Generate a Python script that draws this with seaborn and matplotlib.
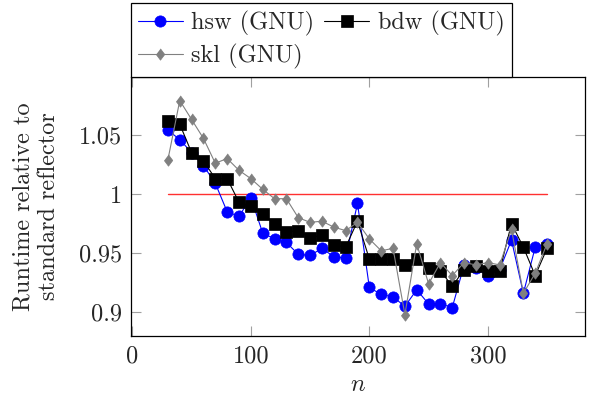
import matplotlib
matplotlib.use("Agg")
import matplotlib.pyplot as plt
import seaborn as sns
import pandas as pd

# --- data ---
n_values = [30, 40, 50, 60, 70, 80, 90, 100, 110, 120, 130, 140, 150, 160, 170,
            180, 190, 200, 210, 220, 230, 240, 250, 260, 270, 280, 290, 300,
            310, 320, 330, 340, 350]
hsw = [1.054, 1.046, 1.035, 1.024, 1.009, 0.985, 0.981, 0.997, 0.967, 0.962,
       0.959, 0.949, 0.948, 0.954, 0.947, 0.946, 0.992, 0.921, 0.915, 0.913,
       0.905, 0.919, 0.907, 0.907, 0.904, 0.940, 0.937, 0.931, 0.936, 0.961,
       0.916, 0.955, 0.958]
bdw = [1.062, 1.059, 1.035, 1.028, 1.013, 1.013, 0.993, 0.990, 0.983, 0.975,
       0.968, 0.969, 0.963, 0.965, 0.957, 0.955, 0.977, 0.945, 0.945, 0.945,
       0.940, 0.945, 0.937, 0.935, 0.922, 0.936, 0.939, 0.935, 0.935, 0.975,
       0.955, 0.931, 0.954]
skl = [1.029, 1.079, 1.063, 1.047, 1.026, 1.030, 1.020, 1.013, 1.004, 0.996,
       0.996, 0.980, 0.976, 0.977, 0.972, 0.969, 0.976, 0.962, 0.952, 0.954,
       0.898, 0.958, 0.924, 0.942, 0.931, 0.942, 0.940, 0.942, 0.940, 0.970,
       0.916, 0.933, 0.958]
ref_n = [30, 350]
ref_y = [1.0, 1.0]

series_labels = ["hsw (GNU)", "bdw (GNU)", "skl (GNU)"]
x_ticks = [0, 100, 200, 300]
y_ticks = [0.9, 0.95, 1.0, 1.05]
y_tick_labels = ["0.9", "0.95", "1", "1.05"]

# --- style ---
sns.set_theme(style="white")
plt.rcParams["font.family"] = ["cmr10", "DejaVu Serif"]
plt.rcParams["mathtext.fontset"] = "cm"
plt.rcParams["axes.formatter.use_mathtext"] = True
fs = 17.5

df = pd.DataFrame({"n": n_values, "hsw": hsw, "bdw": bdw, "skl": skl})
df_ref = pd.DataFrame({"n": ref_n, "y": ref_y})

diamond = [(0, 1), (0.75, 0), (0, -1), (-0.75, 0)]

fig = plt.figure(figsize=(5.99, 3.99), dpi=100)
ax = fig.add_axes([0.2182, 0.1579, 0.7584, 0.6499])

sns.lineplot(data=df_ref, x="n", y="y", ax=ax, color="#ff3030", lw=1.0, zorder=1)
sns.lineplot(data=df, x="n", y="hsw", ax=ax, color="blue", lw=0.8, marker="o",
             markersize=8.1, markeredgecolor="blue", markeredgewidth=0.5,
             label=series_labels[0], zorder=2)
sns.lineplot(data=df, x="n", y="bdw", ax=ax, color="black", lw=0.8, marker="s",
             markersize=8.4, markeredgecolor="black", markeredgewidth=0.5,
             label=series_labels[1], zorder=3)
sns.lineplot(data=df, x="n", y="skl", ax=ax, color="gray", lw=0.8, marker=diamond,
             markersize=8.2, markeredgecolor="gray", markeredgewidth=0.5,
             label=series_labels[2], zorder=4)

ax.set_xlim(-1.4, 382)
ax.set_ylim(0.8799, 1.0992)
ax.set_xticks(x_ticks)
ax.set_xticklabels([str(t) for t in x_ticks])
ax.set_yticks(y_ticks)
ax.set_yticklabels(y_tick_labels)
ax.tick_params(axis="both", which="major", direction="in", length=7, width=0.8,
               color="#a0a0a0", labelsize=fs, pad=6.5,
               top=True, right=True, bottom=True, left=True)

for sp in ax.spines.values():
    sp.set_color("black")
    sp.set_linewidth(0.9)

ax.set_xlabel("$n$", fontsize=fs)
ax.xaxis.set_label_coords(0.5, -0.145)
ax.set_ylabel("Runtime relative to\nstandard reflector", fontsize=fs,
              linespacing=1.2)
ax.yaxis.set_label_coords(-0.156, 0.5)

# legend above the plot, filled row by row
h, l = ax.get_legend_handles_labels()
order = [0, 2, 1]
leg = ax.legend([h[i] for i in order], [l[i] for i in order], ncol=2,
                loc="lower left", bbox_to_anchor=(0.0, 1.0), borderaxespad=0,
                fontsize=fs, frameon=True, fancybox=False, framealpha=1,
                edgecolor="black", handlelength=1.85, handletextpad=0.35,
                columnspacing=0.4, labelspacing=0.35, borderpad=0.3,
                numpoints=1)
leg.get_frame().set_linewidth(0.9)

fig.savefig("out.png", dpi=100)
